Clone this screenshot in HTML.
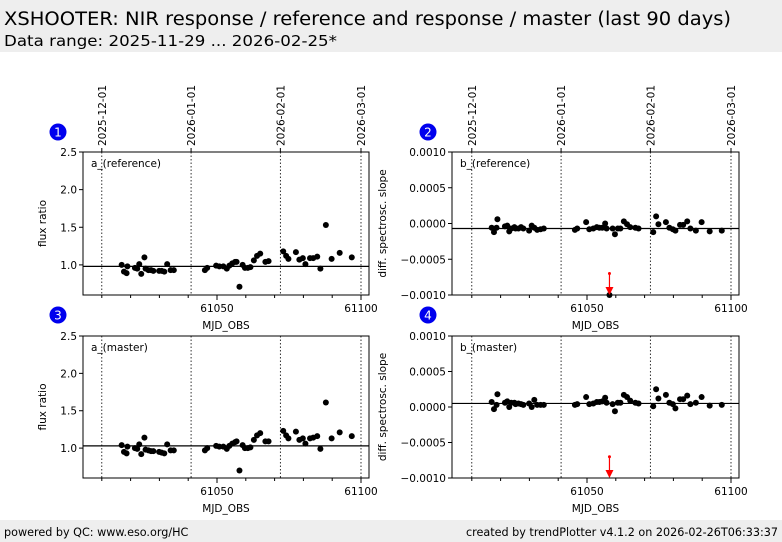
<!DOCTYPE html>
<html><head><meta charset="utf-8"><style>
body{margin:0;background:#fff;font-family:"Liberation Sans","DejaVu Sans",sans-serif}
svg{display:block}
</style></head><body>
<svg id="c" width="782" height="542" xmlns="http://www.w3.org/2000/svg" font-family="DejaVu Sans, Liberation Sans, sans-serif">
<rect x="0" y="0" width="782" height="52" fill="#eeeeee"/>
<text x="4" y="25" font-size="18.5" textLength="727" lengthAdjust="spacingAndGlyphs" fill="#000">XSHOOTER: NIR response / reference and response / master (last 90 days)</text>
<text x="4" y="46" font-size="15.5" textLength="333" lengthAdjust="spacingAndGlyphs" fill="#000">Data range: 2025-11-29 ... 2026-02-25*</text>
<rect x="0" y="520" width="782" height="22" fill="#eeeeee"/>
<text x="4" y="536" font-size="11.2">powered by QC: www.eso.org/HC</text>
<text x="778" y="536" font-size="11.2" text-anchor="end">created by trendPlotter v4.1.2 on 2026-02-26T06:33:37</text>
</svg>
<script>
const mjd=[61016.9,61017.7,61018.6,61018.9,61021.5,61022.3,61023.0,61023.7,61024.8,61025.2,61026.2,61027.1,61027.9,61029.9,61030.8,61031.7,61032.7,61033.9,61035.0,
61045.8,61046.6,61049.7,61050.8,61052.2,61053.4,61054.3,61055.3,61056.3,61056.8,61057.8,61058.9,61059.7,61060.7,61061.6,61062.8,61063.9,61065.0,61066.8,61067.9,
61073.0,61074.0,61074.8,61077.4,61078.6,61079.8,61080.7,61082.3,61083.4,61084.8,61085.9,61087.8,61089.8,61092.6,61096.8];
const aRef=[1.00,0.91,0.89,0.98,0.96,0.95,1.01,0.88,1.10,0.95,0.93,0.93,0.92,0.92,0.92,0.91,1.01,0.93,0.93,
0.93,0.96,0.99,0.98,0.98,0.95,0.99,1.02,1.04,1.04,0.71,1.00,0.96,0.96,0.97,1.06,1.12,1.15,1.04,1.05,
1.18,1.12,1.08,1.17,1.07,1.09,1.01,1.09,1.09,1.11,0.95,1.53,1.08,1.16,1.10];
const aMaster=[1.04,0.95,0.93,1.02,1.00,0.99,1.05,0.92,1.14,0.98,0.97,0.96,0.96,0.95,0.94,0.93,1.05,0.97,0.97,
0.97,1.00,1.03,1.02,1.02,0.99,1.03,1.06,1.08,1.09,0.70,1.04,1.00,1.00,1.01,1.11,1.17,1.20,1.09,1.09,
1.23,1.17,1.13,1.22,1.11,1.13,1.06,1.13,1.14,1.16,0.99,1.61,1.13,1.21,1.16];
const bRef=[-0.6e-4,-1.2e-4,-0.6e-4,0.6e-4,-0.4e-4,-0.3e-4,-1.1e-4,-0.7e-4,-0.5e-4,-0.7e-4,-0.7e-4,-0.5e-4,-0.7e-4,-1.0e-4,-0.3e-4,-0.6e-4,-0.9e-4,-0.8e-4,-0.7e-4,
-0.9e-4,-0.7e-4,0.2e-4,-0.8e-4,-0.7e-4,-0.5e-4,-0.6e-4,-0.6e-4,0.0,-0.7e-4,-10e-4,-0.7e-4,-1.5e-4,-0.7e-4,-0.7e-4,0.3e-4,-0.1e-4,-0.5e-4,-0.6e-4,-0.7e-4,
-1.2e-4,1.0e-4,-0.1e-4,0.2e-4,-0.6e-4,-0.8e-4,-1.0e-4,-0.2e-4,-0.2e-4,0.3e-4,-0.7e-4,-1.0e-4,0.2e-4,-1.1e-4,-1.0e-4];
const bMaster=[0.7e-4,-0.3e-4,0.3e-4,1.8e-4,0.6e-4,0.8e-4,0.0,0.6e-4,0.6e-4,0.4e-4,0.5e-4,0.4e-4,0.3e-4,0.5e-4,0.0,1.0e-4,0.3e-4,0.3e-4,0.3e-4,
0.3e-4,0.4e-4,1.4e-4,0.4e-4,0.5e-4,0.7e-4,0.7e-4,0.8e-4,1.3e-4,0.6e-4,-14e-4,0.4e-4,-0.6e-4,0.6e-4,0.6e-4,1.7e-4,1.4e-4,0.9e-4,0.6e-4,0.5e-4,
0.1e-4,2.5e-4,1.2e-4,1.7e-4,0.6e-4,0.4e-4,-0.2e-4,1.1e-4,1.1e-4,1.6e-4,0.4e-4,0.6e-4,1.4e-4,0.2e-4,0.3e-4];
const medians=[0.98,-0.00007,1.03,0.00005];
const xTicks=[61050,61100];
const dateMjd=[61010,61041,61072,61100];
const dateLabels=["2025-12-01","2026-01-01","2026-02-01","2026-03-01"];
const aTicks=[1.0,1.5,2.0,2.5];
const bTicks=[-0.001,-0.0005,0,0.0005,0.001];
const bTickLabels=["\u22120.0010","\u22120.0005","0.0000","0.0005","0.0010"];

const NS="http://www.w3.org/2000/svg";
const svg=document.getElementById('c');
function el(tag,attrs,parent){const e=document.createElementNS(NS,tag);for(const k in attrs)e.setAttribute(k,attrs[k]);(parent||svg).appendChild(e);return e;}

const panels=[
 {x0:83,x1:369,y0:152,y1:295,x50:217,ymin:0.6,ymax:2.5,vals:aRef,med:medians[0],ticks:aTicks,tl:aTicks.map(v=>v.toFixed(1)),lbl:"a_(reference)",yt:"flux ratio",ytx:46,num:"1",cx:58,cy:132,top:true,name:"a-reference"},
 {x0:452,x1:739,y0:152,y1:295,x50:587,ymin:-0.001,ymax:0.001,vals:bRef,med:medians[1],ticks:bTicks,tl:bTickLabels,lbl:"b_(reference)",yt:"diff. spectrosc. slope",ytx:386,num:"2",cx:428,cy:132,top:true,name:"b-reference"},
 {x0:83,x1:369,y0:336,y1:478,x50:217,ymin:0.6,ymax:2.5,vals:aMaster,med:medians[2],ticks:aTicks,tl:aTicks.map(v=>v.toFixed(1)),lbl:"a_(master)",yt:"flux ratio",ytx:46,num:"3",cx:58,cy:315,top:false,name:"a-master"},
 {x0:452,x1:739,y0:336,y1:478,x50:587,ymin:-0.001,ymax:0.001,vals:bMaster,med:medians[3],ticks:bTicks,tl:bTickLabels,lbl:"b_(master)",yt:"diff. spectrosc. slope",ytx:386,num:"4",cx:428,cy:315,top:false,name:"b-master"}
];
panels.forEach((p,pi)=>{
 const g=el('g',{});
 
 
 const X=m=>p.x50+(m-61050)*2.88;
 const Y=v=>p.y1-(v-p.ymin)/(p.ymax-p.ymin)*(p.y1-p.y0);
 const cid='clip'+pi;
 const cp=el('clipPath',{id:cid},g);el('rect',{x:p.x0,y:p.y0-3,width:p.x1-p.x0,height:p.y1-p.y0+6},cp);
 dateMjd.forEach((d,i)=>{
  const l=el('line',{x1:X(d),x2:X(d),y1:p.y0,y2:p.y1,stroke:'#000','stroke-width':0.8,'stroke-dasharray':'1.5,2'},g);
  
  
  if(p.top){
   el('line',{x1:X(d),x2:X(d),y1:p.y0,y2:p.y0-4,stroke:'#000'},g);
   const t=el('text',{x:0,y:0,'font-size':10.5,transform:`translate(${X(d)+4},${p.y0-6}) rotate(-90)`},g);
   t.textContent=dateLabels[i];
   
   
  }
 });
 for(let m=61010;m<=61100;m+=10){
  el('line',{x1:X(m),x2:X(m),y1:p.y1,y2:p.y1+(m%50===0?5:3),stroke:'#000'},g);
 }
 xTicks.forEach(m=>{
  const t=el('text',{x:X(m),y:p.y1+17,'font-size':10.5,'text-anchor':'middle'},g);
  t.textContent=m;
  
  
 });
 const xt=el('text',{x:(p.x0+p.x1)/2,y:p.y1+34,'font-size':10.5,'text-anchor':'middle'},g);
 xt.textContent='MJD_OBS';
 
 
 p.ticks.forEach((v,i)=>{
  el('line',{x1:p.x0,x2:p.x0-4,y1:Y(v),y2:Y(v),stroke:'#000'},g);
  const t=el('text',{x:p.x0-6,y:Y(v)+4,'font-size':10.5,'text-anchor':'end'},g);
  t.textContent=p.tl[i];
  
  
 });
 const yt=el('text',{x:0,y:0,'font-size':10.5,'text-anchor':'middle',transform:`translate(${p.ytx},${(p.y0+p.y1)/2}) rotate(-90)`},g);
 yt.textContent=p.yt;
 
 
 const ml=el('line',{x1:p.x0,x2:p.x1,y1:Y(p.med),y2:Y(p.med),stroke:'#000','stroke-width':1.2},g);
 
 
 const pg=el('g',{'clip-path':`url(#${cid})`},g);
 p.vals.forEach((v,i)=>{
  const ax=X(mjd[i]);
  if(v>=p.ymin-1e-9){
   const c=el('circle',{cx:ax,cy:Y(v),r:3,fill:'#000'},pg);
   
   
  }
  if(v<=p.ymin+1e-9){
   const a=el('g',{},g);
   
   
   el('line',{x1:ax,x2:ax,y1:Y(p.ymin+0.0003),y2:p.y1-5,stroke:'red','stroke-width':1.2},a);
   el('circle',{cx:ax,cy:Y(p.ymin+0.0003),r:1.5,fill:'red'},a);
   el('polygon',{points:`${ax-4},${p.y1-8} ${ax+4},${p.y1-8} ${ax},${p.y1}`,fill:'red'},a);
  }
 });
 el('rect',{x:p.x0,y:p.y0,width:p.x1-p.x0,height:p.y1-p.y0,fill:'none',stroke:'#000','stroke-width':1},g);
 const lt=el('text',{x:p.x0+8,y:p.y0+15,'font-size':10.5},g);
 lt.textContent=p.lbl;
 
 
 const bc=el('circle',{cx:p.cx,cy:p.cy,r:8.5,fill:'#0000ee'},g);
 
 
 const bt=el('text',{x:p.cx,y:p.cy+4.5,'font-size':12,fill:'#fff','text-anchor':'middle'},g);
 bt.textContent=p.num;
 
 
});
</script>
</body></html>
